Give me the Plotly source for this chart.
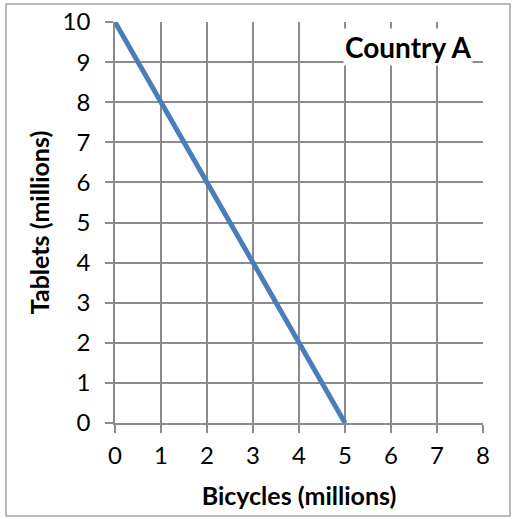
import plotly.graph_objects as go

bicycles = [0, 5]
tablets = [10, 0]
x_ticks = [0, 1, 2, 3, 4, 5, 6, 7, 8]
y_ticks = [0, 1, 2, 3, 4, 5, 6, 7, 8, 9, 10]
title_text = "Country A"
x_title = "Bicycles (millions)"
y_title = "Tablets (millions)"

W, H = 513, 519
L, R, T, B = 115, 483, 22, 423
pw, ph = R - L, B - T

def px(x):
    return (x - L) / pw

def py(y):
    return (B - y) / ph

font = "Lato, Carlito, Calibri, sans-serif"
grid = "#8c8c8c"

fig = go.Figure()
fig.add_trace(go.Scatter(x=bicycles, y=tablets, mode="lines",
                         line=dict(color="#4a7ebb", width=5), showlegend=False,
                         hoverinfo="skip"))

fig.update_layout(
    width=W, height=H,
    margin=dict(l=L, r=W - R, t=T, b=H - B, autoexpand=False),
    paper_bgcolor="white", plot_bgcolor="white",
    font=dict(family=font, color="black"),
    xaxis=dict(range=[0, 8], tickvals=x_ticks, showgrid=True, gridcolor=grid, gridwidth=1.5,
               showline=True, linecolor=grid, linewidth=1.5, ticks="outside", ticklen=8,
               tickcolor=grid, tickwidth=1.5, zeroline=False, tickfont=dict(size=24),
               ticklabelstandoff=2, automargin=False,
               title=dict(text="<b>" + x_title + "</b>", font=dict(size=25), standoff=20),
               fixedrange=True),
    yaxis=dict(range=[0, 10], tickvals=y_ticks, showgrid=True, gridcolor=grid, gridwidth=1.5,
               showline=True, linecolor=grid, linewidth=1.5, ticks="outside", ticklen=8,
               tickcolor=grid, tickwidth=1.5, zeroline=False, tickfont=dict(size=24),
               ticklabelstandoff=10, automargin=False,
               title=dict(text="<b>" + y_title + "</b>", font=dict(size=25), standoff=6),
               fixedrange=True),
    annotations=[dict(text="<b>" + title_text + "</b>", xref="paper", yref="paper",
                      x=px(473), y=py(47), xanchor="right", yanchor="middle",
                      showarrow=False, bgcolor="white", font=dict(size=28, family=font),
                      borderpad=1)],
    shapes=[dict(type="rect", xref="paper", yref="paper",
                 x0=px(6), x1=px(510), y0=py(516), y1=py(4),
                 line=dict(color="#a6a6a6", width=1.5), layer="below")],
)

fig.write_html("out.html", config={"displayModeBar": False},
               post_script="document.body.style.margin='0';")
